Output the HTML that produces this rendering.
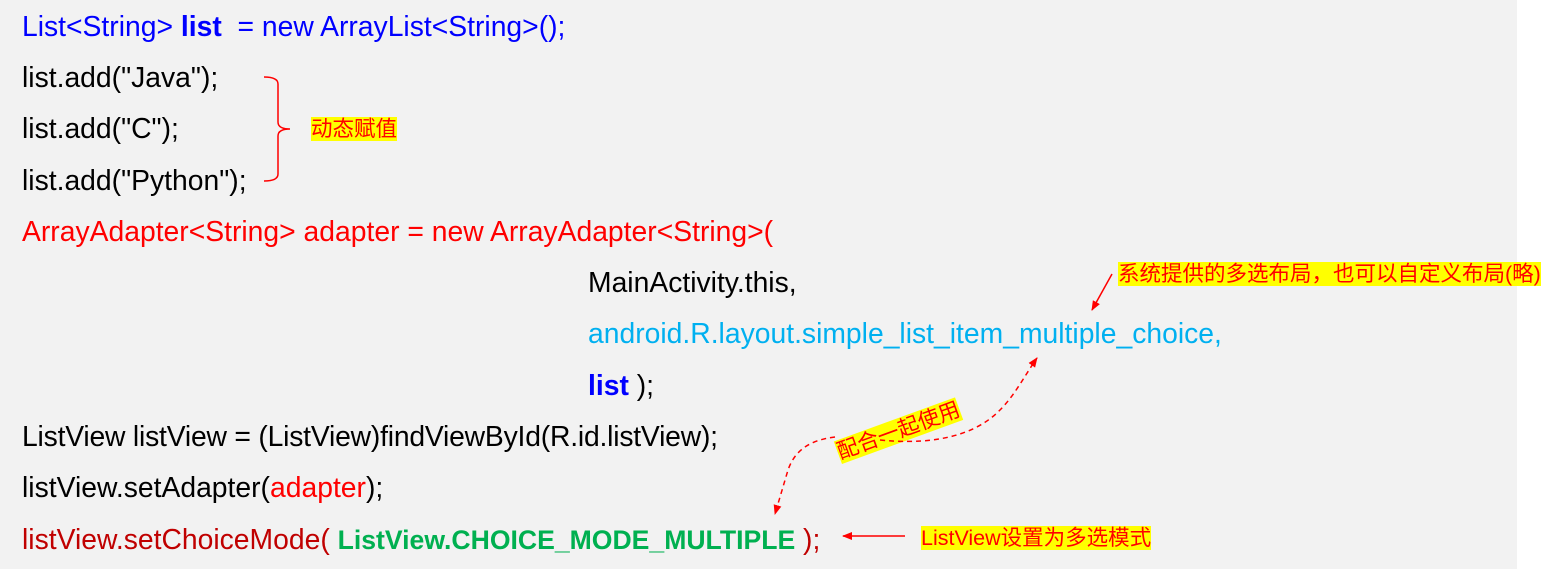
<!DOCTYPE html>
<html><head><meta charset="utf-8"><style>
body{margin:0;width:1548px;height:569px;background:#fff;position:relative;overflow:hidden;font-family:"Liberation Sans","Noto Sans CJK SC",sans-serif}
#bg{position:absolute;left:0;top:0;width:1517px;height:569px;background:#f2f2f2}
.l{position:absolute;font-size:28.3px;line-height:30px;white-space:pre;color:#000}
.n{position:absolute;font-size:21.5px;line-height:24px;background:#ff0;color:#f00;white-space:pre}
b{font-weight:bold}
</style></head><body>
<div id="bg"></div>
<div class="l" style="left:22px;top:11px;color:#00f">List&lt;String&gt; <b>list</b>  = new ArrayList&lt;String&gt;();</div>
<div class="l" style="left:22px;top:62px">list.add("Java");</div>
<div class="l" style="left:22px;top:113px">list.add("C");</div>
<div class="l" style="left:22px;top:165px">list.add("Python");</div>
<div class="l" style="left:22px;top:216px;color:#f00">ArrayAdapter&lt;String&gt; adapter = new ArrayAdapter&lt;String&gt;(</div>
<div class="l" style="left:588px;top:267px">MainActivity.this,</div>
<div class="l" style="left:588px;top:318px;color:#00b0f0">android.R.layout.simple_list_item_multiple_choice,</div>
<div class="l" style="left:588px;top:370px"><b style="color:#00f">list</b> );</div>
<div class="l" style="left:22px;top:421px;letter-spacing:-0.2px">ListView listView = (ListView)findViewById(R.id.listView);</div>
<div class="l" style="left:22px;top:472px">listView.setAdapter(<span style="color:#f00">adapter</span>);</div>
<div class="l" style="left:22px;top:524px;color:#c00000">listView.setChoiceMode( <b style="color:#00b050;font-size:26.6px">ListView.CHOICE_MODE_MULTIPLE</b> );</div>
<div class="n" style="left:311px;top:117px">动态赋值</div>
<div class="n" style="left:1118px;top:262px">系统提供的多选布局，也可以自定义布局(略)</div>
<div class="n" style="left:921px;top:526px">ListView设置为多选模式</div>
<div class="n" style="left:842px;top:440px;transform:rotate(-20deg);transform-origin:0 100%">配合一起使用</div>
<svg width="1548" height="569" style="position:absolute;left:0;top:0">
<defs><marker id="a" markerWidth="10" markerHeight="8" refX="9" refY="4" orient="auto" markerUnits="userSpaceOnUse"><path d="M0,0L10,4L0,8z" fill="#f00"/></marker></defs>
<path d="M264,77 Q278,77 278,84 L278,122 Q278,129 290,129 Q278,129 278,136 L278,174 Q278,181 264,181" fill="none" stroke="#f00" stroke-width="1.5"/>
<path d="M1112,274 L1092,310" stroke="#f00" stroke-width="1.5" marker-end="url(#a)"/>
<path d="M905,536 L843,536" stroke="#f00" stroke-width="1.5" marker-end="url(#a)"/>
<path d="M835,437 C810,440 795,450 788,470 L775,514" fill="none" stroke="#f00" stroke-width="1.5" stroke-dasharray="5,4" marker-end="url(#a)"/>
<path d="M880,440 C960,448 990,420 1000,410 C1015,395 1025,375 1037,358" fill="none" stroke="#f00" stroke-width="1.5" stroke-dasharray="5,4" marker-end="url(#a)"/>
</svg>
</body></html>
